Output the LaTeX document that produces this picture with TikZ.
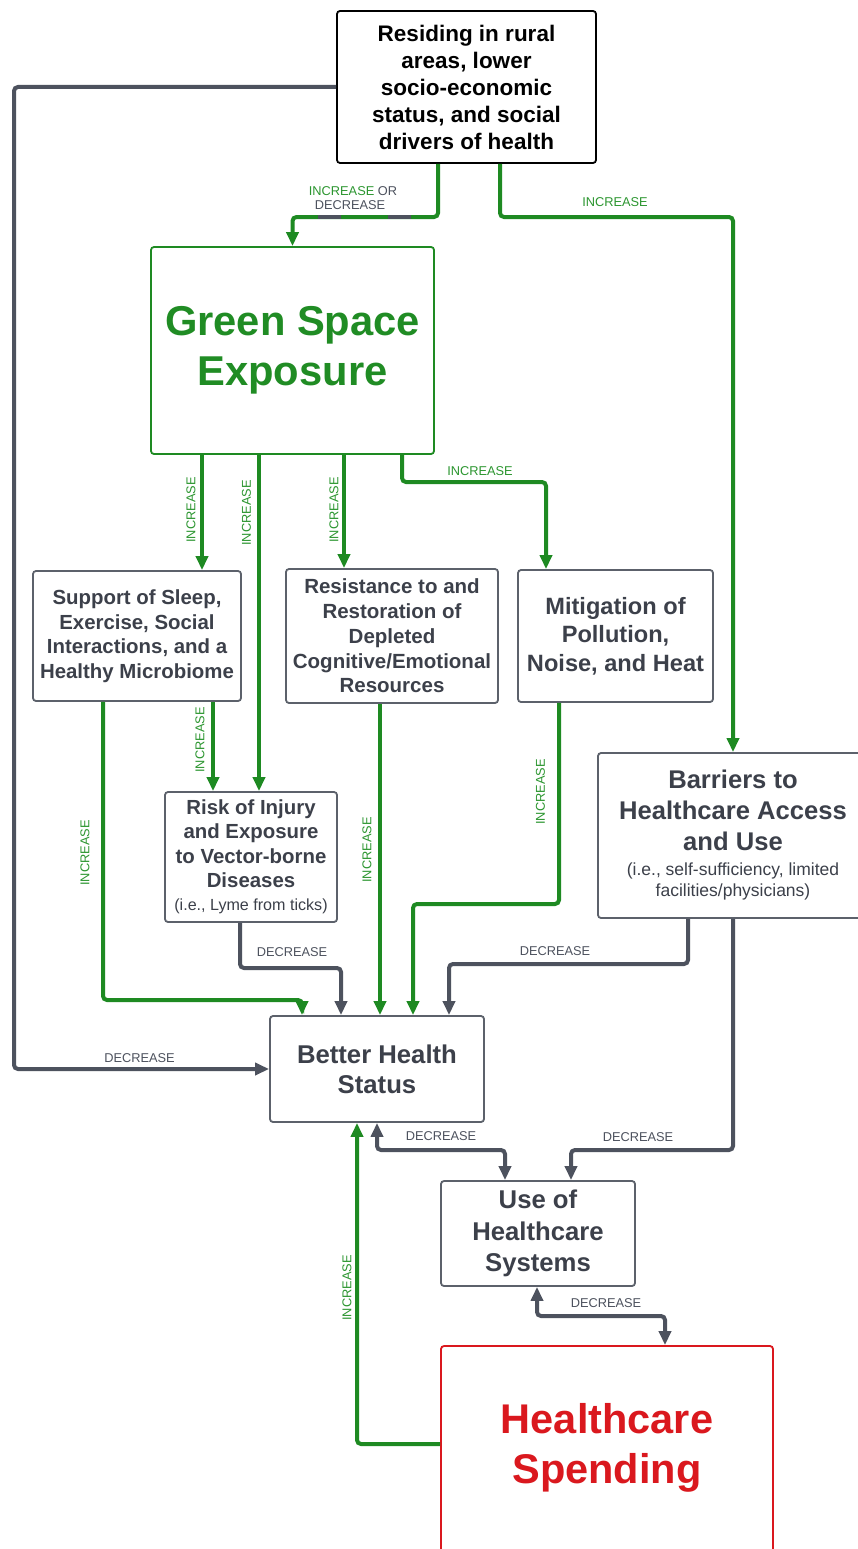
\documentclass[tikz,border=0pt]{standalone}
\usepackage{fontspec}
\setmainfont{Liberation Sans}
\usetikzlibrary{arrows.meta}
\definecolor{gcol}{RGB}{30,138,34}
\definecolor{gtext}{RGB}{32,140,36}
\definecolor{glbl}{RGB}{44,150,48}
\definecolor{kcol}{RGB}{77,82,94}
\definecolor{btext}{RGB}{60,64,74}
\definecolor{bline}{RGB}{92,97,107}
\definecolor{rcol}{RGB}{218,24,30}
\tikzset{
 box/.style={draw=bline, line width=1.8pt, rounded corners=3pt, inner sep=0pt, align=center, text=btext, font=\bfseries},
 gl/.style={draw=gcol, line width=4pt, rounded corners=4pt},
 kl/.style={draw=kcol, line width=4pt, rounded corners=4pt},
 tip/.style={-{Triangle[width=12pt,length=14pt]}},
 tips/.style={{Triangle[width=12pt,length=14pt]}-{Triangle[width=12pt,length=14pt]}},
 lab/.style={font=\fontsize{12.8}{14}\selectfont, inner sep=0pt},
 glab/.style={lab, text=glbl},
 klab/.style={lab, text=kcol},
}
\begin{document}
\begin{tikzpicture}[x=1pt,y=-1pt]
\useasboundingbox (0,0) rectangle (858,1549);
\fill[white] (0,0) rectangle (858,1549);

% boxes
\node[box, draw=black, text=black, minimum width=259pt, minimum height=152pt, font=\bfseries\fontsize{22.5}{27}\selectfont] (top) at (466.5,87) {Residing in rural\\areas, lower\\socio-economic\\status, and social\\drivers of health};
\node[box, draw=gcol, text=gtext, minimum width=283pt, minimum height=207pt, font=\bfseries\fontsize{41.7}{50}\selectfont] (gs) at (292.5,350.5) {Green Space\\Exposure};
\node[box, minimum width=208pt, minimum height=130pt, font=\bfseries\fontsize{20.4}{24.5}\selectfont] (sup) at (137,636) {Support of Sleep,\\Exercise, Social\\Interactions, and a\\Healthy Microbiome};
\node[box, minimum width=212pt, minimum height=134pt, font=\bfseries\fontsize{20.5}{24.75}\selectfont] (res) at (392,636) {Resistance to and\\Restoration of\\Depleted\\Cognitive/Emotional\\Resources};
\node[box, minimum width=195pt, minimum height=132pt, font=\bfseries\fontsize{23.6}{28.5}\selectfont] (mit) at (615.5,636) {Mitigation of\\Pollution,\\Noise, and Heat};
\node[box, minimum width=172pt, minimum height=130pt, font=\bfseries\fontsize{20.4}{24.5}\selectfont] (risk) at (251,857) {Risk of Injury\\and Exposure\\to Vector-borne\\Diseases\\[-1.5pt]{\mdseries\fontsize{16.1}{19}\selectfont(i.e., Lyme from ticks)}};
\node[box, minimum width=270pt, minimum height=165pt, font=\bfseries\fontsize{25.6}{31}\selectfont] (bar) at (733,835.5) {Barriers to\\Healthcare Access\\and Use\\[-6pt]{\mdseries\fontsize{17.5}{21}\selectfont(i.e., self-sufficiency, limited}\\[-10pt]{\mdseries\fontsize{17.5}{21}\selectfont facilities/physicians)}};
\node[box, minimum width=214pt, minimum height=106pt, font=\bfseries\fontsize{25.7}{30}\selectfont] (bh) at (377,1069) {Better Health\\Status};
\node[box, minimum width=194pt, minimum height=105pt, font=\bfseries\fontsize{25.7}{31.5}\selectfont] (use) at (538,1233.5) {Use of\\Healthcare\\Systems};
\node[box, draw=rcol, minimum width=332pt, minimum height=230pt] (hsbox) at (607,1461) {};
\node[text=rcol, font=\bfseries\fontsize{41.5}{50}\selectfont, align=center, inner sep=0pt] (hs) at (607,1448) {Healthcare\\Spending};

% connectors
\draw[kl,tip] (top.west) -- (14,87) |- (bh.west);
\draw[gl,tip] (top.south -| 438,0) -- (438,217) -| (gs.north);
\draw[kcol, line width=4pt] (318,217) -- (341,217) (388,217) -- (411,217);
\draw[gl,tip] (top.south -| 500,0) -- (500,217) -| (bar.north);
\draw[gl,tip] (gs.south -| 202,0) -- (sup.north -| 202,0);
\draw[gl,tip] (gs.south -| 259,0) -- (risk.north -| 259,0);
\draw[gl,tip] (gs.south -| 344,0) -- (res.north -| 344,0);
\draw[gl,tip] (gs.south -| 402,0) -- (402,482) -| (mit.north -| 546,0);
\draw[gl,tip] (sup.south -| 213,0) -- (risk.north -| 213,0);
\draw[gl,tip] (sup.south -| 103,0) |- (302,1000) -- (bh.north -| 302,0);
\draw[kl,tip] (risk.south -| 240,0) |- (341,968) -- (bh.north -| 341,0);
\draw[gl,tip] (res.south -| 380,0) -- (bh.north -| 380,0);
\draw[gl,tip] (mit.south -| 559,0) |- (413,904) -- (bh.north -| 413,0);
\draw[kl,tip] (bar.south -| 688,0) |- (449,964) -- (bh.north -| 449,0);
\draw[kl,tip] (bar.south) |- (571,1150) -- (use.north -| 571,0);
\draw[kl,tips] (bh.south -| 377,0) |- (505,1150) -- (use.north -| 505,0);
\draw[kl,tips] (use.south -| 537,0) |- (665,1316) -- (hsbox.north -| 665,0);
\draw[gl,tip] (hsbox.west |- 0,1444) -| (bh.south -| 357,0);

% labels
\node[klab] (l1) at (139.5,1058) {DECREASE};
\node[lab] (l2a) at (353,191) {\textcolor{glbl}{INCREASE} \textcolor{kcol}{OR}};
\node[klab] (l2b) at (350,205.5) {DECREASE};
\node[glab] (l3) at (615,202) {INCREASE};
\node[glab, rotate=90] (l4) at (191,510) {INCREASE};
\node[glab, rotate=90] (l5) at (246.5,513) {INCREASE};
\node[glab, rotate=90] (l6) at (334,510) {INCREASE};
\node[glab] (l7) at (480,471) {INCREASE};
\node[glab, rotate=90] (l8) at (200,740) {INCREASE};
\node[glab, rotate=90] (l9) at (85,853) {INCREASE};
\node[klab] (l10) at (292,952) {DECREASE};
\node[glab, rotate=90] (l11) at (367,850) {INCREASE};
\node[glab, rotate=90] (l12) at (540.5,792) {INCREASE};
\node[klab] (l13) at (555,951) {DECREASE};
\node[klab] (l14) at (638,1137) {DECREASE};
\node[klab] (l15) at (441,1136) {DECREASE};
\node[klab] (l16) at (606,1303) {DECREASE};
\node[glab, rotate=90] (l17) at (347,1288) {INCREASE};
\end{tikzpicture}
\end{document}
